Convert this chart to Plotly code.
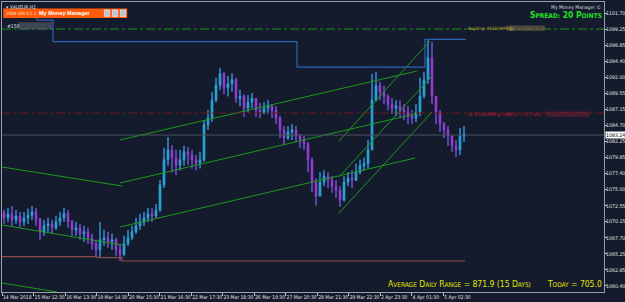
import plotly.graph_objects as go

# ---------------- data ----------------
first_open = 1071.5
close = [1070.7, 1071.3, 1070.4, 1071.0, 1070.1, 1070.7, 1071.1, 1071.6, 1070.5, 1068.6,
         1069.5, 1069.8, 1069.2, 1070.1, 1070.7, 1071.4, 1070.1, 1068.9, 1069.2, 1068.3,
         1068.6, 1067.7, 1066.8, 1065.9, 1067.4, 1067.7, 1067.1, 1067.4, 1065.9, 1065.2,
         1066.8, 1067.7, 1068.6, 1069.5, 1070.1, 1070.7, 1071.3, 1071.0, 1071.9, 1075.7,
         1079.5, 1081.0, 1079.8, 1078.7, 1079.5, 1080.7, 1080.2, 1079.5, 1079.0, 1079.5,
         1084.8, 1085.8, 1088.5, 1090.8, 1092.5, 1090.4, 1091.0, 1091.6, 1088.8, 1089.1,
         1087.3, 1088.2, 1088.8, 1087.0, 1086.7, 1087.3, 1087.6, 1087.0, 1085.8, 1084.0,
         1082.8, 1083.7, 1084.0, 1083.1, 1082.5, 1081.9, 1079.5, 1076.1, 1074.0, 1076.1,
         1077.0, 1076.4, 1075.5, 1074.9, 1073.4, 1076.1, 1076.7, 1076.4, 1077.6, 1078.6,
         1078.9, 1081.0, 1088.5, 1090.7, 1089.7, 1089.1, 1087.9, 1087.3, 1087.6, 1087.0,
         1086.7, 1086.1, 1085.8, 1086.7, 1089.1, 1091.6, 1094.9, 1089.1, 1086.7, 1084.9,
         1084.0, 1083.1, 1081.6, 1081.0, 1083.1, 1083.4]
high = [1071.9, 1072.2, 1072.5, 1071.9, 1071.6, 1071.6, 1072.1, 1072.5, 1072.2, 1070.7,
        1070.4, 1070.7, 1070.4, 1071.0, 1071.6, 1072.2, 1071.9, 1070.4, 1070.1, 1069.8,
        1069.5, 1069.2, 1068.3, 1067.4, 1070.1, 1068.9, 1068.6, 1068.3, 1067.7, 1066.8,
        1068.0, 1068.9, 1069.5, 1070.7, 1071.3, 1071.6, 1072.2, 1072.2, 1072.8, 1076.4,
        1081.3, 1082.9, 1081.7, 1081.0, 1081.0, 1081.6, 1081.4, 1081.0, 1080.2, 1080.7,
        1085.5, 1087.0, 1089.7, 1091.9, 1093.4, 1092.8, 1092.2, 1092.6, 1091.9, 1090.1,
        1089.4, 1089.3, 1089.6, 1088.8, 1088.1, 1088.2, 1088.5, 1087.9, 1087.6, 1086.1,
        1084.6, 1084.6, 1084.9, 1084.6, 1083.4, 1083.1, 1082.2, 1079.8, 1076.7, 1077.6,
        1077.9, 1077.6, 1077.0, 1076.4, 1075.5, 1077.0, 1077.6, 1077.9, 1078.9, 1079.5,
        1079.8, 1082.5, 1092.5, 1092.8, 1091.3, 1090.7, 1089.4, 1088.8, 1088.5, 1088.5,
        1087.9, 1087.6, 1087.0, 1087.9, 1091.9, 1092.8, 1097.6, 1097.3, 1089.1, 1087.0,
        1085.2, 1084.6, 1083.1, 1082.5, 1084.3, 1084.6]
low = [1069.8, 1070.1, 1069.5, 1069.8, 1069.3, 1069.5, 1069.8, 1070.4, 1069.5, 1067.4,
       1068.0, 1068.6, 1068.3, 1068.9, 1069.5, 1070.1, 1069.2, 1068.0, 1068.0, 1067.4,
       1067.1, 1066.8, 1065.9, 1064.9, 1064.8, 1066.5, 1066.2, 1065.9, 1064.9, 1064.2,
       1064.9, 1066.5, 1067.4, 1068.3, 1068.9, 1069.5, 1070.1, 1070.1, 1070.7, 1071.6,
       1075.2, 1078.6, 1077.6, 1077.2, 1077.9, 1078.6, 1078.7, 1078.2, 1077.9, 1078.2,
       1079.2, 1084.0, 1085.2, 1088.2, 1090.1, 1089.4, 1089.1, 1089.8, 1088.1, 1087.6,
       1086.0, 1086.7, 1087.3, 1086.0, 1085.8, 1086.4, 1086.4, 1085.8, 1084.9, 1082.8,
       1081.7, 1082.5, 1082.5, 1082.2, 1081.3, 1081.0, 1077.6, 1074.6, 1072.6, 1074.0,
       1075.5, 1075.2, 1074.5, 1073.7, 1072.4, 1073.2, 1075.5, 1075.2, 1076.4, 1077.3,
       1077.9, 1078.2, 1081.0, 1088.3, 1088.5, 1087.9, 1087.0, 1086.4, 1086.1, 1085.8,
       1085.5, 1084.9, 1084.9, 1085.2, 1086.1, 1088.8, 1091.0, 1087.9, 1084.9, 1083.7,
       1082.8, 1081.6, 1080.7, 1079.9, 1080.2, 1082.2]

x_labels = ["14 Mar 2018", "15 Mar 12:30", "16 Mar 13:30", "19 Mar 14:30", "20 Mar 15:30",
            "21 Mar 16:30", "22 Mar 17:30", "23 Mar 18:30", "26 Mar 19:30", "27 Mar 20:30",
            "28 Mar 21:30", "29 Mar 22:30", "2 Apr 23:30", "4 Apr 01:30", "5 Apr 02:30"]
x_label_bar = [-0.5, 7.4, 15.3, 23.1, 31.0, 38.9, 46.8, 54.6, 62.5, 70.4, 78.3, 86.1, 94.0, 101.9, 109.8]

y_tick_vals = [1101.70, 1099.25, 1096.85, 1094.40, 1092.00, 1089.55, 1087.15, 1084.70, 1082.25,
               1079.85, 1077.40, 1075.00, 1072.55, 1070.15, 1067.70, 1065.25, 1062.85, 1060.40]

bid_price = 1083.24
buystop_price = 1099.28
sl_price = 1086.57

# highest-high (blue) and lowest-low (brown) step lines: (bar, price)
hh_x = [4.5, 8.25, 8.25, 12.25, 12.25, 73.25, 73.25, 105.25, 105.25, 115.5]
hh_y = [1101.40, 1101.40, 1100.64, 1100.64, 1097.36, 1097.36, 1093.53, 1093.53, 1097.70, 1097.70]
ll_x = [-0.5, 23.25, 23.25, 29.5, 29.5, 115.25]
ll_y = [1064.83, 1064.83, 1064.68, 1064.68, 1064.18, 1064.18]

# trend/channel lines: (x0, y0, x1, y1)
channel_lines = [
    (-0.5, 1078.40, 29.5, 1075.53),
    (-0.5, 1069.63, 29.5, 1066.60),
    (-0.5, 1060.85, 13.25, 1059.49),
    (29.0, 1082.49, 103.25, 1092.93),
    (29.0, 1075.98, 103.25, 1086.50),
    (29.0, 1069.32, 102.75, 1079.76),
    (83.75, 1082.34, 106.5, 1097.47),
    (83.75, 1076.89, 107.0, 1092.17),
    (83.75, 1071.44, 107.0, 1086.72),
]

# ---------------- styling ----------------
BG = "#131b2c"
NARROW = "Liberation Sans Narrow, DejaVu Sans Condensed, Liberation Sans"
opens = [first_open] + close[:-1]
bars = list(range(len(close)))

fig = go.Figure()

# wicks (blue)
wx, wy = [], []
for i in bars:
    wx += [i, i, None]
    wy += [low[i], high[i], None]
fig.add_trace(go.Scatter(x=wx, y=wy, mode="lines", line=dict(color="#3d6bd0", width=1),
                         hoverinfo="skip", showlegend=False))

fig.add_trace(go.Candlestick(
    x=bars, open=opens, high=high, low=low, close=close,
    increasing=dict(line=dict(color="#22d8e8", width=1), fillcolor="#22d8e8"),
    decreasing=dict(line=dict(color="#d81ed8", width=1), fillcolor="#d81ed8"),
    whiskerwidth=0, showlegend=False))

for (x0, y0, x1, y1) in channel_lines:
    fig.add_trace(go.Scatter(x=[x0, x1], y=[y0, y1], mode="lines",
                             line=dict(color="#1d9a1d", width=1), showlegend=False, hoverinfo="skip"))

fig.add_trace(go.Scatter(x=hh_x, y=hh_y, mode="lines", line=dict(color="#2a63b8", width=1.2),
                         showlegend=False, hoverinfo="skip"))
fig.add_trace(go.Scatter(x=ll_x, y=ll_y, mode="lines", line=dict(color="#8e4a44", width=1.2),
                         showlegend=False, hoverinfo="skip"))

shapes = [
    dict(type="line", xref="paper", x0=0, x1=1, y0=bid_price, y1=bid_price,
         line=dict(color="#4a5262", width=1)),
    dict(type="line", xref="paper", x0=0, x1=1, y0=buystop_price, y1=buystop_price,
         line=dict(color="#1f8f1f", width=1, dash="dashdot")),
    dict(type="line", xref="paper", x0=0, x1=1, y0=sl_price, y1=sl_price,
         line=dict(color="#6e1a22", width=1, dash="dashdot")),
    # orange panel
    dict(type="rect", xref="paper", yref="paper", x0=0.002, x1=0.208, y0=0.945, y1=0.978,
         fillcolor="#ff5a0a", line=dict(width=0)),
    # blurred label areas
    dict(type="rect", xref="paper", yref="paper", x0=0.027, x1=0.083, y0=0.905, y1=0.93,
         fillcolor="#5a6070", opacity=0.6, line=dict(width=0)),
    dict(type="rect", xref="x", yref="y", x0=125.7, x1=135.2, y0=buystop_price - 0.25,
         y1=buystop_price + 0.55, fillcolor="#7a6a48", opacity=0.6, line=dict(width=0)),
    dict(type="rect", xref="x", yref="y", x0=135.5, x1=146.5, y0=sl_price - 0.55,
         y1=sl_price + 0.25, fillcolor="#6a2030", opacity=0.6, line=dict(width=0)),
]
for k in range(3):
    shapes.append(dict(type="rect", xref="paper", yref="paper",
                       x0=0.170 + k * 0.0133, x1=0.179 + k * 0.0133, y0=0.950, y1=0.973,
                       fillcolor="#b8c4d8", line=dict(color="#ffffff", width=0.5)))


def sc(text, small):
    out = []
    for word in text.split(" "):
        if word and word[0].isalpha():
            out.append(word[0] + "<span style='font-size:%gpx'>%s</span>" % (small, word[1:].upper()))
        else:
            out.append(word)
    return " ".join(out)


annotations = [
    dict(xref="paper", yref="paper", x=0.003, y=1.0, xanchor="left", yanchor="top",
         text="▾ XAUEUR,H1", showarrow=False, font=dict(family=NARROW, size=5, color="#e0e0e0")),
    dict(xref="paper", yref="paper", x=0.004, y=0.962, xanchor="left", yanchor="middle",
         text="2008 SMI 0.1.2", showarrow=False, font=dict(family=NARROW, size=4.5, color="#ffe0c8")),
    dict(xref="paper", yref="paper", x=0.104, y=0.962, xanchor="center", yanchor="middle",
         text="<b>My Money Manager</b>", showarrow=False,
         font=dict(family="Liberation Sans", size=5.5, color="#ffffff")),
    dict(xref="paper", yref="paper", x=0.005, y=0.918, xanchor="left", yanchor="middle",
         text="#150", showarrow=False, font=dict(family=NARROW, size=5, color="#e0e0e0")),
    dict(xref="paper", yref="paper", x=0.998, y=1.0, xanchor="right", yanchor="top",
         text="My Money Manager ©", showarrow=False, font=dict(family=NARROW, size=5, color="#d8d8d8")),
    dict(xref="paper", yref="paper", x=1.0, y=0.978, xanchor="right", yanchor="top",
         text="<b>" + sc("SPREAD: 20 POINTS", 6.5) + "</b>", showarrow=False,
         font=dict(family=NARROW, size=8.5, color="#22e022")),
    dict(xref="x", yref="y", x=115.6, y=buystop_price + 0.15, xanchor="left", yanchor="middle",
         text="BuyStop #1500999 @", showarrow=False, font=dict(family=NARROW, size=4.5, color="#c9a032")),
    dict(xref="x", yref="y", x=115.6, y=sl_price - 0.15, xanchor="left", yanchor="middle",
         text="SL #1500999 @ 1086.57 (-12.7 pts)", showarrow=False,
         font=dict(family=NARROW, size=4.5, color="#d01c2c")),
    dict(xref="paper", yref="paper", x=1.0, y=0.005, xanchor="right", yanchor="bottom",
         text=sc("AVERAGE DAILY RANGE = 871.9 (15 DAYS)", 6.5) + "       " + sc("TODAY = 705.0", 6.5),
         showarrow=False, font=dict(family=NARROW, size=8.5, color="#e6e600")),
    dict(xref="paper", yref="y", x=1.002, y=bid_price, xanchor="left", yanchor="middle",
         text="%.2f" % bid_price, showarrow=False, bgcolor="#ffffff", borderpad=0,
         font=dict(family=NARROW, size=5.2, color="#000000")),
]

fig.update_layout(
    width=625, height=302,
    margin=dict(l=2, r=21, t=2, b=10, autoexpand=False),
    paper_bgcolor=BG, plot_bgcolor=BG,
    shapes=shapes, annotations=annotations,
    showlegend=False, boxgap=0.45,
    xaxis=dict(range=[-0.5, 150.0], rangeslider=dict(visible=False), showgrid=False, zeroline=False,
               tickvals=x_label_bar, ticktext=x_labels, ticks="outside", ticklen=3, tickangle=0,
               tickcolor="#c0c0c0", ticklabelposition="outside right", automargin=False,
               tickfont=dict(family=NARROW, size=5, color="#e0e0e0"),
               showline=True, linecolor="#9aa0aa", linewidth=1, mirror=True),
    yaxis=dict(range=[1059.49, 1103.37], side="right", showgrid=False, zeroline=False,
               tickvals=y_tick_vals, ticktext=["%.2f" % v for v in y_tick_vals], automargin=False,
               ticks="outside", ticklen=2, tickcolor="#c0c0c0", ticklabelstandoff=-2,
               tickfont=dict(family=NARROW, size=5.2, color="#e0e0e0"),
               showline=True, linecolor="#9aa0aa", linewidth=1, mirror=True),
)

fig.write_html("out.html")
